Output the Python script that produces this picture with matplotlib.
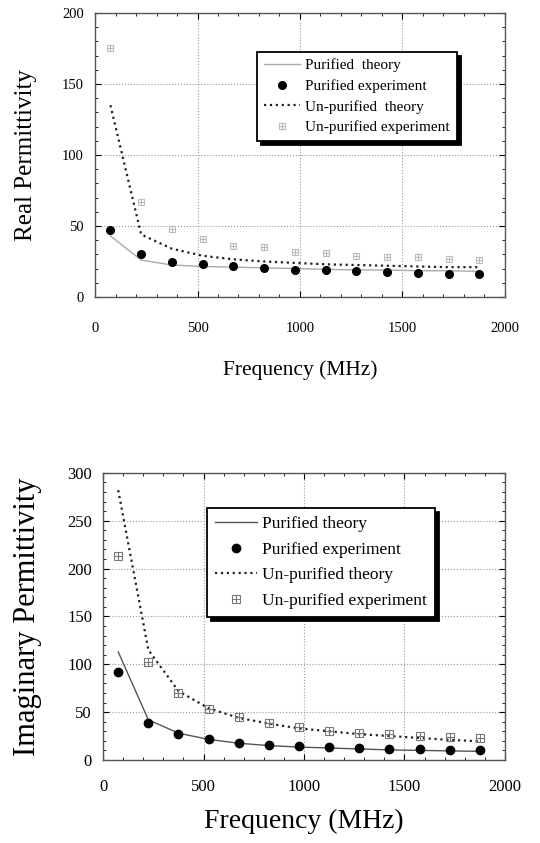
import matplotlib.pyplot as plt
from matplotlib.ticker import MultipleLocator

plt.rcParams['font.family'] = ['Liberation Serif', 'DejaVu Serif']

# frequencies (MHz)
freq = [75, 225, 375, 525, 675, 825, 975, 1125, 1275, 1425, 1575, 1725, 1875]

# real permittivity
real_pur_theory = [43, 26, 22.5, 21.5, 21, 20.5, 20, 19.5, 19, 19, 18.5, 18.5, 18]
real_pur_exp = [47, 30, 24.7, 23.5, 21.6, 20.7, 19.3, 18.8, 18.1, 17.4, 16.9, 16, 16]
real_unpur_theory = [135, 44, 34, 29, 26.5, 25, 24, 23, 22.5, 22, 21.5, 21, 21]
real_unpur_exp = [175, 67, 48, 41, 36, 35, 32, 31, 29, 28, 28, 27, 26]

# imaginary permittivity
imag_pur_theory = [113, 42, 28, 21.5, 17.5, 15, 13.5, 12.5, 11.5, 10.5, 10, 9.5, 9]
imag_pur_exp = [92, 39, 27, 21.6, 18, 15.7, 15, 13.3, 12.2, 11.5, 11.2, 10.8, 10.5]
imag_unpur_theory = [282, 115, 72, 54, 44, 38, 33, 30, 27, 25, 23, 21, 19.5]
imag_unpur_exp = [213, 102, 70, 53, 44.6, 38.4, 34, 30.7, 28.6, 27, 25, 23.7, 22.7]

fig = plt.figure(figsize=(5.4, 8.43), dpi=100)
ax1 = fig.add_axes([0.176, 0.6477, 0.759, 0.337])
ax2 = fig.add_axes([0.191, 0.0985, 0.744, 0.3405])


def draw(ax, pt, pe, ut, ue, sqcol, theorycol, fs_tick, fs_leg, labels, ymax, ystep,
         ylabel, fs_lab, fs_xlab, leg_pos, ms, sq_ms, xpad, xlabpad, ylabpad, lspace):
    l1, = ax.plot(freq, pt, '-', color=theorycol, lw=1.0)
    l2, = ax.plot(freq, pe, 'o', color='black', ms=ms, ls='none')
    l3, = ax.plot(freq, ut, ':', color='#222222', lw=1.6)
    s1, = ax.plot(freq, ue, 's', color=sqcol, mfc='none', ms=sq_ms, mew=0.8, ls='none')
    s2, = ax.plot(freq, ue, '+', color=sqcol, ms=sq_ms, mew=0.8, ls='none')
    ax.set_xlim(0, 2000)
    ax.set_ylim(0, ymax)
    ax.xaxis.set_major_locator(MultipleLocator(500))
    ax.xaxis.set_minor_locator(MultipleLocator(100))
    ax.yaxis.set_major_locator(MultipleLocator(ystep))
    ax.yaxis.set_minor_locator(MultipleLocator(10))
    ax.tick_params(which='both', direction='in', top=True, right=True, labelsize=fs_tick)
    ax.tick_params(axis='x', pad=xpad)
    ax.tick_params(axis='y', pad=8)
    ax.tick_params(which='major', length=4)
    ax.tick_params(which='minor', length=2)
    ax.grid(True, ls=':', color='#999999', lw=0.8)
    for sp in ax.spines.values():
        sp.set_color('#555555')
        sp.set_linewidth(1.0)
    ax.set_xlabel('Frequency (MHz)', fontsize=fs_xlab, labelpad=xlabpad)
    ax.set_ylabel(ylabel, fontsize=fs_lab, labelpad=ylabpad)
    leg = ax.legend([l1, l2, l3, (s1, s2)], labels, loc='upper left', bbox_to_anchor=leg_pos,
                    borderaxespad=0, fontsize=fs_leg, fancybox=False, framealpha=1,
                    edgecolor='black', handlelength=2.4, handletextpad=0.3,
                    labelspacing=lspace, borderpad=0.45,
                    shadow={'ox': 3, 'oy': -3, 'color': 'black', 'alpha': 1})
    leg.get_frame().set_linewidth(1.3)


draw(ax1, real_pur_theory, real_pur_exp, real_unpur_theory, real_unpur_exp,
     '#bbbbbb', '#aaaaaa', 10.5, 11,
     ['Purified  theory', 'Purified experiment', 'Un-purified  theory', 'Un-purified experiment'],
     200, 50, 'Real Permittivity', 18, 15.5, (0.395, 0.863), 5.5, 5, 18, 18, 18, 0.45)
draw(ax2, imag_pur_theory, imag_pur_exp, imag_unpur_theory, imag_unpur_exp,
     '#777777', '#555555', 12, 12.5,
     ['Purified theory', 'Purified experiment', 'Un-purified theory', 'Un-purified experiment'],
     300, 50, 'Imaginary Permittivity', 22, 20, (0.259, 0.878), 6, 6, 14, 10, 18, 0.55)

fig.savefig('out.png', dpi=100)
